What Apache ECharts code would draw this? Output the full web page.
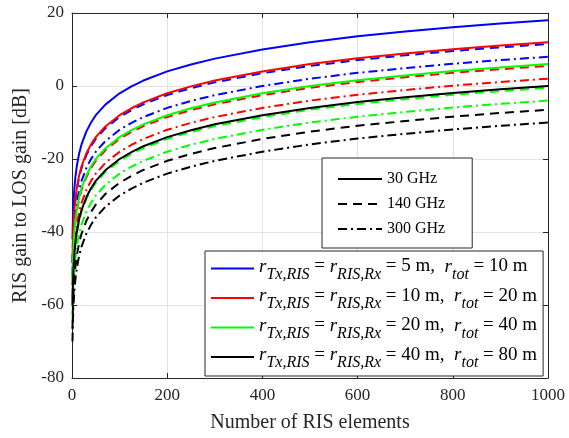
<!DOCTYPE html>
<html>
<head>
<meta charset="utf-8">
<script src="https://cdn.jsdelivr.net/npm/echarts@6/dist/echarts.min.js"></script>
<style>html,body{margin:0;padding:0;background:#fff}#c{width:569px;height:438px}</style>
</head>
<body>
<div id="c"></div>
<script>
// Number of RIS elements (sample points)
var N = [1,2,3,5,7,10,15,20,30,40,50,70,100,125,150,200,250,300,400,500,600,700,800,900,1000];
var xTicks = [0,200,400,600,800,1000];
var yTicks = [-80,-60,-40,-20,0,20];

// 5 m
var d5_30  = [-42.0,-36.0,-32.5,-28.0,-25.1,-22.0,-18.5,-16.0,-12.5,-10.0,-8.0,-5.1,-2.0,-0.1,1.5,4.0,5.9,7.5,10.0,12.0,13.6,14.9,16.1,17.1,18.0];
var d5_140 = [-48.5,-42.5,-39.0,-34.5,-31.6,-28.5,-25.0,-22.5,-19.0,-16.5,-14.5,-11.6,-8.5,-6.6,-5.0,-2.5,-0.6,1.0,3.5,5.5,7.1,8.4,9.6,10.6,11.5];
var d5_300 = [-52.0,-46.0,-42.5,-38.0,-35.1,-32.0,-28.5,-26.0,-22.5,-20.0,-18.0,-15.1,-12.0,-10.1,-8.5,-6.0,-4.1,-2.5,0.0,2.0,3.6,4.9,6.1,7.1,8.0];
// 10 m
var d10_30  = [-48.0,-42.0,-38.5,-34.0,-31.1,-28.0,-24.5,-22.0,-18.5,-16.0,-14.0,-11.1,-8.0,-6.1,-4.5,-2.0,-0.1,1.5,4.0,6.0,7.6,8.9,10.1,11.1,12.0];
var d10_140 = [-54.5,-48.5,-45.0,-40.5,-37.6,-34.5,-31.0,-28.5,-25.0,-22.5,-20.5,-17.6,-14.5,-12.6,-11.0,-8.5,-6.6,-5.0,-2.5,-0.5,1.1,2.4,3.6,4.6,5.5];
var d10_300 = [-58.0,-52.0,-48.5,-44.0,-41.1,-38.0,-34.5,-32.0,-28.5,-26.0,-24.0,-21.1,-18.0,-16.1,-14.5,-12.0,-10.1,-8.5,-6.0,-4.0,-2.4,-1.1,0.1,1.1,2.0];
// 20 m
var d20_30  = [-54.0,-48.0,-44.5,-40.0,-37.1,-34.0,-30.5,-28.0,-24.5,-22.0,-20.0,-17.1,-14.0,-12.1,-10.5,-8.0,-6.1,-4.5,-2.0,0.0,1.6,2.9,4.1,5.1,6.0];
var d20_140 = [-60.5,-54.5,-51.0,-46.5,-43.6,-40.5,-37.0,-34.5,-31.0,-28.5,-26.5,-23.6,-20.5,-18.6,-17.0,-14.5,-12.6,-11.0,-8.5,-6.5,-4.9,-3.6,-2.4,-1.4,-0.5];
var d20_300 = [-64.0,-58.0,-54.5,-50.0,-47.1,-44.0,-40.5,-38.0,-34.5,-32.0,-30.0,-27.1,-24.0,-22.1,-20.5,-18.0,-16.1,-14.5,-12.0,-10.0,-8.4,-7.1,-5.9,-4.9,-4.0];
// 40 m
var d40_30  = [-60.0,-54.0,-50.5,-46.0,-43.1,-40.0,-36.5,-34.0,-30.5,-28.0,-26.0,-23.1,-20.0,-18.1,-16.5,-14.0,-12.1,-10.5,-8.0,-6.0,-4.4,-3.1,-1.9,-0.9,0.0];
var d40_140 = [-66.5,-60.5,-57.0,-52.5,-49.6,-46.5,-43.0,-40.5,-37.0,-34.5,-32.5,-29.6,-26.5,-24.6,-23.0,-20.5,-18.6,-17.0,-14.5,-12.5,-10.9,-9.6,-8.4,-7.4,-6.5];
var d40_300 = [-70.0,-64.0,-60.5,-56.0,-53.1,-50.0,-46.5,-44.0,-40.5,-38.0,-36.0,-33.1,-30.0,-28.1,-26.5,-24.0,-22.1,-20.5,-18.0,-16.0,-14.4,-13.1,-11.9,-10.9,-10.0];

var freqNames = ['30 GHz','140 GHz','300 GHz'];
var distNames = ['5 m','10 m','20 m','40 m'];
var totNames  = ['10 m','20 m','40 m','80 m'];
var colors = ['#0000FF','#FF0000','#00FF00','#000000'];
var groups = [[d5_30,d5_140,d5_300],[d10_30,d10_140,d10_300],[d20_30,d20_140,d20_300],[d40_30,d40_140,d40_300]];

var dashTypes = ['solid',[9,6],[9,4,2,4]];
var FONT = 'Liberation Serif';

function pts(arr){ return N.map(function(n,i){ return [n, arr[i]]; }); }

var series = [];
groups.forEach(function(g, gi){
  g.forEach(function(arr, fi){
    series.push({
      type:'line',
      name: fi === 0 ? ('D' + gi) : ('D' + gi + '_' + fi),
      data: pts(arr),
      symbol:'none',
      smooth:false,
      lineStyle:{color:colors[gi], width:2, type:dashTypes[fi]},
      itemStyle:{color:colors[gi]},
      z: 3
    });
  });
});
// legend-only series for frequencies
freqNames.forEach(function(f, fi){
  series.push({type:'line', name:f, data:[], symbol:'none',
    lineStyle:{color:'#000', width:2, type:dashTypes[fi]}, itemStyle:{color:'#000'}});
});

var axisCol = '#262626';
var chart = echarts.init(document.getElementById('c'));
chart.setOption({
  animation:false,
  backgroundColor:'#fff',
  grid:{left:72, right:21, top:13, bottom:58, containLabel:false},
  xAxis:[{
    type:'value', min:0, max:1000, interval:200,
    name:'Number of RIS elements', nameLocation:'middle', nameGap:35,
    nameTextStyle:{fontFamily:FONT, fontSize:20, color:axisCol},
    axisLine:{onZero:false, lineStyle:{color:axisCol, width:1}},
    axisTick:{inside:true, length:5, lineStyle:{color:axisCol}},
    axisLabel:{fontFamily:FONT, fontSize:17, color:axisCol, margin:9,
      formatter:function(v){ return xTicks.indexOf(v) >= 0 ? String(v) : ''; }},
    splitLine:{show:true, lineStyle:{color:'#e3e3e3', width:1}}
  },{
    type:'value', min:0, max:1000, interval:200, position:'top',
    axisLine:{onZero:false, lineStyle:{color:axisCol, width:1}},
    axisTick:{inside:true, length:5, lineStyle:{color:axisCol}},
    axisLabel:{show:false}, splitLine:{show:false}
  }],
  yAxis:[{
    type:'value', min:-80, max:20, interval:20,
    name:'RIS gain to LOS gain [dB]', nameLocation:'middle', nameGap:40,
    nameTextStyle:{fontFamily:FONT, fontSize:20, color:axisCol},
    axisLine:{show:true, onZero:false, lineStyle:{color:axisCol, width:1}},
    axisTick:{show:true, inside:true, length:5, lineStyle:{color:axisCol}},
    axisLabel:{fontFamily:FONT, fontSize:17, color:axisCol, margin:8,
      formatter:function(v){ return yTicks.indexOf(v) >= 0 ? String(v) : ''; }},
    splitLine:{show:true, lineStyle:{color:'#e3e3e3', width:1}}
  },{
    type:'value', min:-80, max:20, interval:20, position:'right',
    axisLine:{show:true, onZero:false, lineStyle:{color:axisCol, width:1}},
    axisTick:{show:true, inside:true, length:5, lineStyle:{color:axisCol}},
    axisLabel:{show:false}, splitLine:{show:false}
  }],
  legend:[{
    data:freqNames,
    orient:'vertical', left:322, top:158,
    padding:[11,27,9,15], itemGap:5, itemWidth:44, itemHeight:14,
    itemStyle:{opacity:0},
    backgroundColor:'#fff', borderColor:axisCol, borderWidth:1, borderRadius:0,
    textStyle:{fontFamily:FONT, fontSize:16, color:'#000', lineHeight:20},
    selectedMode:false
  },{
    data:['D0','D1','D2','D3'],
    orient:'vertical', left:205, top:251,
    padding:[6,6,5,5], itemGap:4, itemWidth:43, itemHeight:14,
    itemStyle:{opacity:0},
    backgroundColor:'#fff', borderColor:axisCol, borderWidth:1, borderRadius:0,
    selectedMode:false,
    formatter:function(name){
      var i = parseInt(name.substring(1), 10);
      return '{r|r}{s|Tx,RIS}{t| = }{r|r}{s|RIS,Rx}{t| = ' + distNames[i] + ',  }{r|r}{s|tot}{t| = ' + totNames[i] + '}';
    },
    textStyle:{fontFamily:FONT, fontSize:19, color:'#000',
      rich:{
        r:{fontFamily:FONT, fontSize:19, fontStyle:'italic', color:'#000', padding:[0,0,4,0]},
        s:{fontFamily:FONT, fontSize:16, fontStyle:'italic', color:'#000', padding:[12,0,0,0]},
        t:{fontFamily:FONT, fontSize:19, color:'#000', padding:[0,0,4,0]}
      }
    }
  }],
  series:series
});
</script>
</body>
</html>
